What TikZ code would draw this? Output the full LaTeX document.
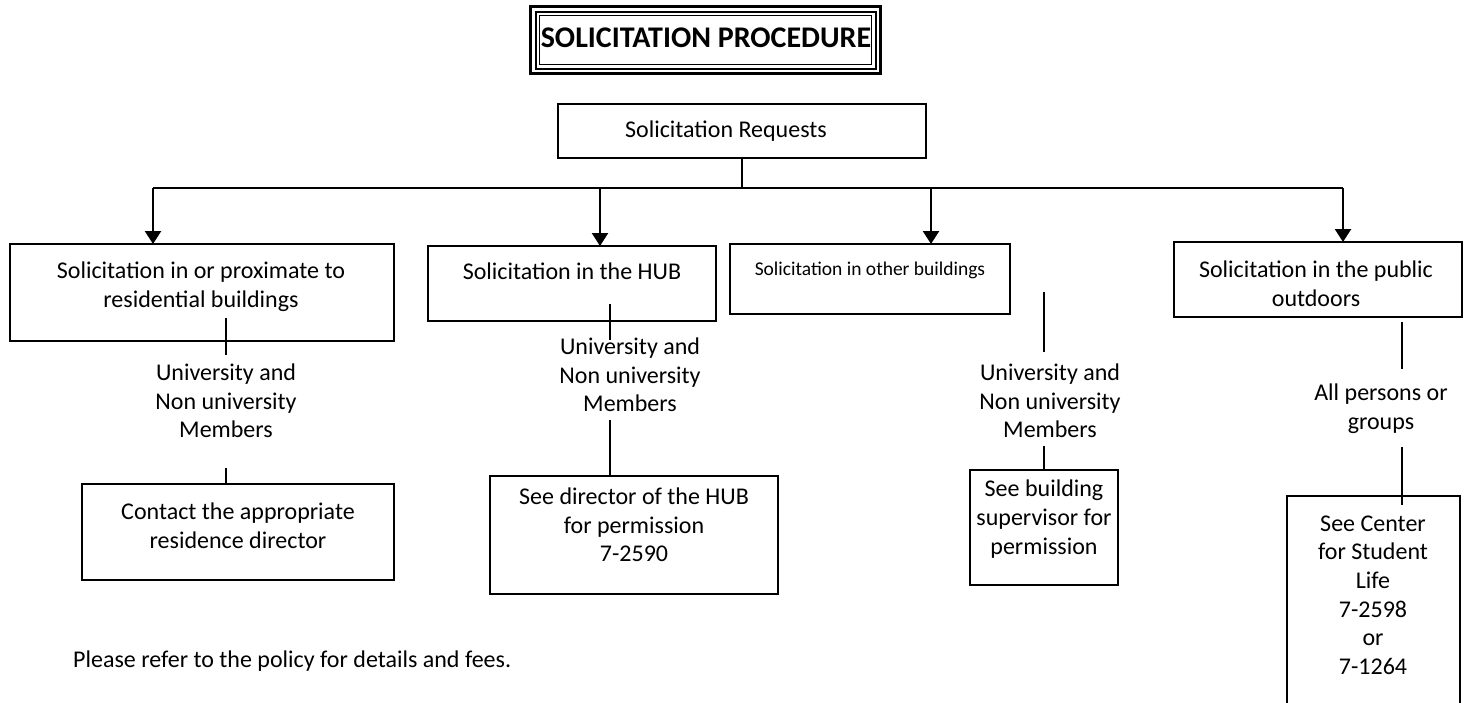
\documentclass[tikz,border=0pt]{standalone}
\usepackage{fontspec}
\setmainfont{Carlito}
\usetikzlibrary{arrows.meta}
\begin{document}
\begin{tikzpicture}[x=1pt,y=-1pt,
  box/.style={draw,line width=1.5pt,inner sep=0pt},
  txt/.style={inner sep=0pt,align=center,font=\fontsize{24}{28.6}\selectfont},
  small/.style={font=\fontsize{19.5}{23.5}\selectfont},
  link/.style={line width=1.6pt},
  feed/.style={line width=2.4pt,-{Triangle[width=16pt,length=13pt]}}]
\useasboundingbox (0,0) rectangle (1470,702);
\clip (0,0) rectangle (1470,702);

% title with triple frame
\draw[line width=3pt] (530.5,6.5) rectangle (880.5,73.5);
\draw[line width=2pt] (535.5,11.5) rectangle (875.5,68.5);
\draw[line width=1.5pt] (539.5,15.5) rectangle (871.5,64.5);
\node[inner sep=0pt,font=\fontsize{30}{36}\selectfont\bfseries] (title) at (706,38) {SOLICITATION PROCEDURE};

% root
\draw[box] (558,104) rectangle (926,158);
\coordinate (rootS) at (742,158);
\node[txt] (root) at (726,131) {Solicitation Requests};

% distribution bar
\coordinate (bar) at (742,188);
\coordinate (barL) at (153,188);
\coordinate (barR) at (1343,188);
\draw[link] (rootS) -- (bar);
\draw[line width=2pt] (barL) -- (barR);

% category boxes
\draw[box] (10,244) rectangle (394,341);
\draw[box] (428,246) rectangle (716,321);
\draw[box] (730,244) rectangle (1010,314);
\draw[box] (1174,242) rectangle (1462,317);
\coordinate (inA) at (153,244);
\coordinate (inB) at (600,246);
\coordinate (inC) at (931,244);
\coordinate (inD) at (1343,242);
\coordinate (tA) at (153,188);
\coordinate (tB) at (600,188);
\coordinate (tC) at (931,188);
\coordinate (tD) at (1343,188);
\draw[feed] (tA) -- (inA);
\draw[feed] (tB) -- (inB);
\draw[feed] (tC) -- (inC);
\draw[feed] (tD) -- (inD);

\node[txt] (catA) at (201,287) {Solicitation in or proximate to\\residential buildings};
\node[txt] (catB) at (572,271) {Solicitation in the HUB};
\node[txt,small] (catC) at (870,270) {Solicitation in other buildings};
\node[txt] (catD) at (1316,284) {Solicitation in the public\\outdoors};

% who may solicit
\node[txt] (whoA) at (226,401) {University and\\Non university\\Members};
\node[txt] (whoB) at (630,375) {University and\\Non university\\Members};
\node[txt] (whoC) at (1050,401) {University and\\Non university\\Members};
\node[txt] (whoD) at (1381,409) {All persons or\\groups};

\coordinate (a1) at (226,318); \coordinate (a2) at (226,355);
\coordinate (a3) at (226,468); \coordinate (a4) at (226,484);
\coordinate (b1) at (610,304); \coordinate (b2) at (610,340);
\coordinate (b3) at (610,420); \coordinate (b4) at (610,476);
\coordinate (c1) at (1044,292); \coordinate (c2) at (1044,352);
\coordinate (c3) at (1044,446); \coordinate (c4) at (1044,470);
\coordinate (d1) at (1402,322); \coordinate (d2) at (1402,369);
\coordinate (d3) at (1402,447); \coordinate (d4) at (1402,505);
\draw[link] (a1) -- (a2); \draw[link] (a3) -- (a4);
\draw[link] (b1) -- (b2); \draw[link] (b3) -- (b4);
\draw[link] (c1) -- (c2); \draw[link] (c3) -- (c4);
\draw[link] (d1) -- (d2); \draw[link] (d3) -- (d4);

% contacts
\draw[box] (82,484) rectangle (394,580);
\draw[box] (490,476) rectangle (778,594);
\draw[box] (970,470) rectangle (1118,585);
\draw[box] (1287,496) rectangle (1460,730);
\node[txt] (outA) at (238,526) {Contact the appropriate\\residence director};
\node[txt] (outB) at (634,525) {See director of the HUB\\for permission\\7-2590};
\node[txt] (outC) at (1044,519) {See building\\supervisor for\\permission};
\node[txt] (outD) at (1373,595) {See Center\\for Student\\Life\\7-2598\\or\\7-1264};

\node[txt,anchor=base west] (note) at (73,667.5) {Please refer to the policy for details and fees.};
\end{tikzpicture}
\end{document}
